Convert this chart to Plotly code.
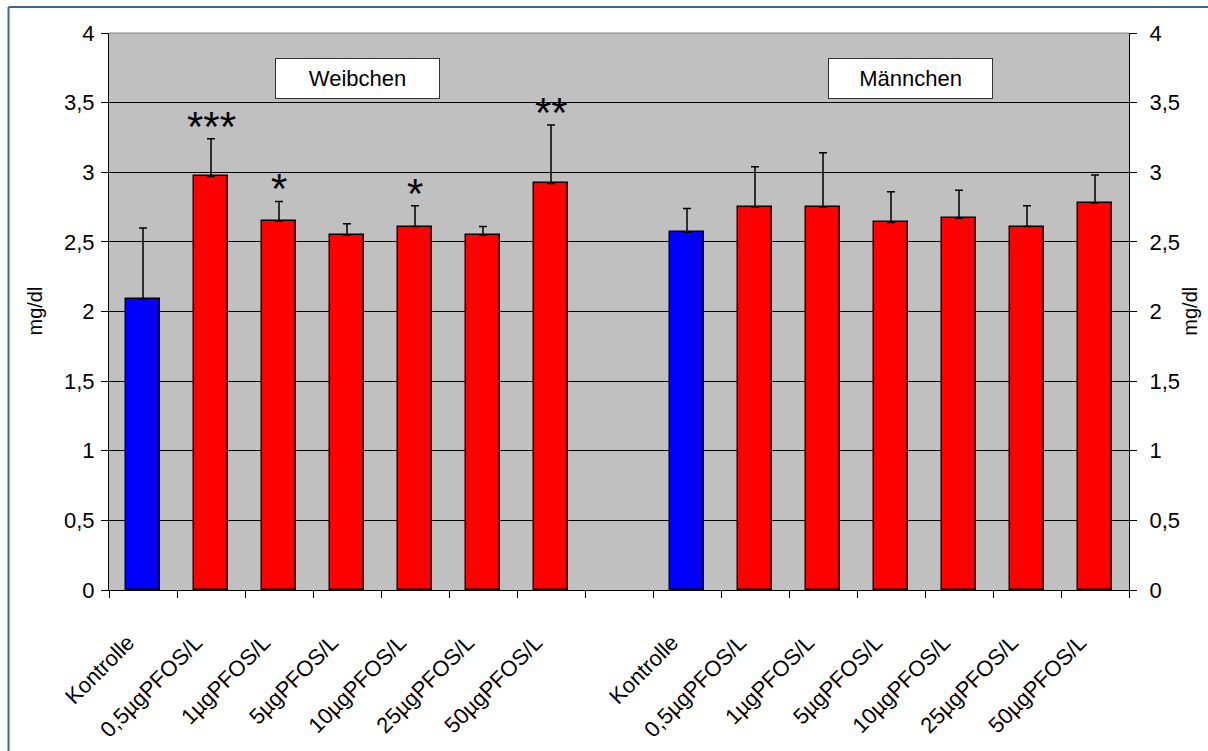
import plotly.graph_objects as go

# Dose groups per sex
group_labels = ["Kontrolle", "0,5µgPFOS/L", "1µgPFOS/L", "5µgPFOS/L",
                "10µgPFOS/L", "25µgPFOS/L", "50µgPFOS/L"]

# Weibchen (females): mean and standard deviation in mg/dl
female_mean = [2.09, 2.97, 2.65, 2.55, 2.61, 2.55, 2.92]
female_sd = [0.51, 0.27, 0.14, 0.08, 0.15, 0.06, 0.42]
female_sig = ["", "***", "*", "", "*", "", "**"]

# Männchen (males): mean and standard deviation in mg/dl
male_mean = [2.57, 2.75, 2.75, 2.64, 2.67, 2.61, 2.78]
male_sd = [0.17, 0.29, 0.39, 0.22, 0.20, 0.15, 0.20]

y_ticks = [0, 0.5, 1, 1.5, 2, 2.5, 3, 3.5, 4]
y_tick_text = ["0", "0,5", "1", "1,5", "2", "2,5", "3", "3,5", "4"]

CONTROL_COLOR = "#0000FF"
DOSE_COLOR = "#FF0000"
FONT = "Arial, Liberation Sans, sans-serif"

n = len(group_labels)
female_x = list(range(n))
male_x = [n + 1 + i for i in range(n)]
all_x = female_x + male_x
all_labels = group_labels + group_labels
colors = [CONTROL_COLOR] + [DOSE_COLOR] * (n - 1)

fig = go.Figure()

for xs, means, sds in ((female_x, female_mean, female_sd),
                       (male_x, male_mean, male_sd)):
    fig.add_trace(go.Bar(
        x=xs, y=means, width=0.5,
        marker=dict(color=colors, line=dict(color="black", width=1.5)),
        error_y=dict(type="data", array=sds, arrayminus=[0] * n,
                     symmetric=False, color="black", thickness=1.5, width=4),
        showlegend=False, hoverinfo="skip",
    ))

# invisible trace anchoring the secondary axes (boundary ticks, right scale)
fig.add_trace(go.Scatter(x=[0], y=[0], xaxis="x2", yaxis="y2",
                         mode="markers", marker=dict(opacity=0),
                         showlegend=False, hoverinfo="skip"))

# significance stars above the female bars
for x, m, s, sig in zip(female_x, female_mean, female_sd, female_sig):
    if sig:
        fig.add_annotation(x=x, y=m + s, text=sig, showarrow=False,
                           xanchor="center", yanchor="bottom", yshift=-13,
                           font=dict(family=FONT, size=42, color="black"))

# group labels in white boxes
for xp, label in ((0.244, "Weibchen"), (0.786, "Männchen")):
    fig.add_annotation(xref="paper", yref="y", x=xp, y=3.673, text=label,
                       showarrow=False, xanchor="center", yanchor="middle",
                       width=163, height=39, borderpad=0, borderwidth=1,
                       bordercolor="#333333", bgcolor="white",
                       font=dict(family=FONT, size=22, color="black"))

# axis titles on both sides
for xp in (-0.0735, 1.059):
    fig.add_annotation(xref="paper", yref="paper", x=xp, y=0.5, text="mg/dl",
                       showarrow=False, textangle=-90, xanchor="center",
                       yanchor="middle",
                       font=dict(family=FONT, size=20, color="black"))

x_range = [-0.5, 2 * n + 0.5]

fig.update_layout(
    width=1208, height=751,
    margin=dict(l=109, r=79, t=33, b=161),
    paper_bgcolor="white", plot_bgcolor="#C0C0C0",
    font=dict(family=FONT, size=22, color="black"),
    bargap=0,
    xaxis=dict(range=x_range, tickmode="array", tickvals=all_x,
               ticktext=all_labels, tickangle=-45, ticks="",
               ticklabelstandoff=30, ticklabelshift=-15, automargin=False,
               showgrid=False, zeroline=False, showline=True,
               linecolor="black", linewidth=1,
               tickfont=dict(family=FONT, size=22, color="black")),
    xaxis2=dict(range=x_range, overlaying="x", anchor="y", automargin=False,
                tickmode="array",
                tickvals=[v - 0.5 for v in range(2 * n + 2)],
                ticks="outside", ticklen=7, tickcolor="black",
                showticklabels=False, showgrid=False, zeroline=False),
    yaxis=dict(range=[0, 4], tickmode="array", tickvals=y_ticks,
               ticktext=y_tick_text, ticks="outside", ticklen=7,
               tickcolor="black", showgrid=True, gridcolor="black",
               gridwidth=1, zeroline=False, showline=True, automargin=False,
               linecolor="black", linewidth=1, ticklabelstandoff=2,
               tickfont=dict(family=FONT, size=22, color="black")),
    yaxis2=dict(range=[0, 4], overlaying="y", side="right", anchor="x",
                tickmode="array", tickvals=y_ticks, ticktext=y_tick_text,
                ticks="outside", ticklen=7, tickcolor="black",
                showgrid=False, zeroline=False, showline=True,
                automargin=False,
                linecolor="black", linewidth=1, ticklabelstandoff=8,
                tickfont=dict(family=FONT, size=22, color="black")),
)

# grey top edge of the plot area
fig.add_shape(type="line", xref="paper", yref="paper", x0=0, x1=1,
              y0=1, y1=1, line=dict(color="#808080", width=1), layer="above")

# frame around the chart: top and left edges (the rest runs off the page)
FRAME = dict(color="#3F6A86", width=2)
fig.add_shape(type="line", xref="paper", yref="paper",
              x0=-0.0985, x1=1.2, y0=1.0467, y1=1.0467, line=FRAME,
              layer="above")
fig.add_shape(type="line", xref="paper", yref="paper",
              x0=-0.0985, x1=-0.0985, y0=-0.4, y1=1.0467, line=FRAME,
              layer="above")

fig.write_html("out.html")
